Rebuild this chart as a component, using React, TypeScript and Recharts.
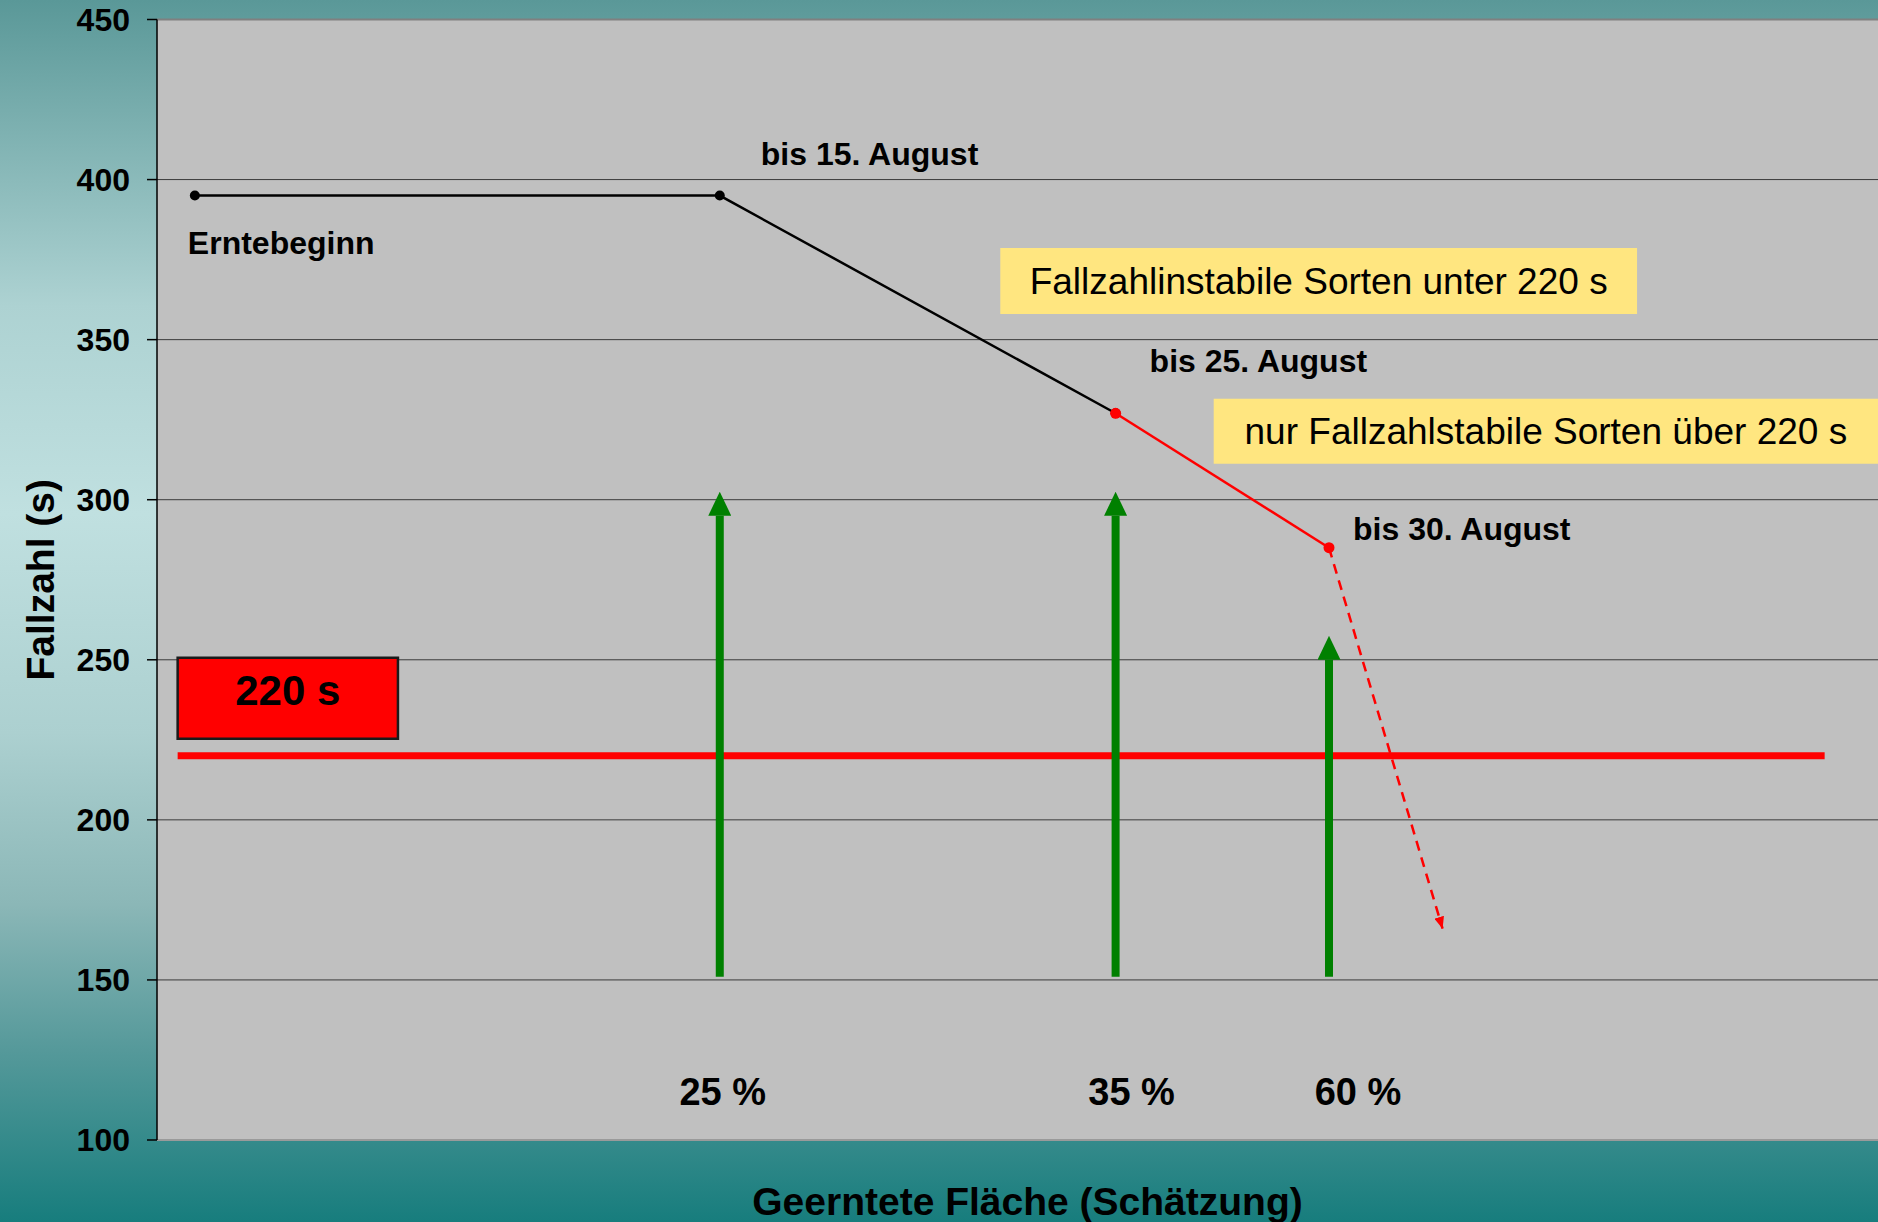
import React from "react";
import {
  CartesianGrid,
  ComposedChart,
  Label,
  Line,
  ReferenceArea,
  ReferenceDot,
  ReferenceLine,
  XAxis,
  YAxis,
} from "recharts";

document.body.style.margin = "0";

const FONT = '"Liberation Sans", Arial, Helvetica, sans-serif';

// Ernteverlauf: Lage auf der (unbeschrifteten) Zeitachse 0–100 und Fallzahl in s
const stageNames = ["Erntebeginn", "bis 15. August", "bis 25. August", "bis 30. August"];
const stageX = [2.2, 32.7, 55.7, 68.1];
const fallzahl = [395, 395, 327, 285];

// weiterer Abfall nach dem 30. August (gestrichelt)
const trendX = [68.1, 74.7];
const trendY = [285, 166];

// geerntete Fläche je Termin (grüne Pfeile)
const harvestShare = ["25 %", "35 %", "60 %"];
const harvestX = [32.7, 55.7, 68.1];
const harvestFrom = [151, 151, 151];
const harvestTo = [295, 295, 250];
const harvestLabelY = 115;

// Grenzwert
const threshold = 220;
const thresholdX = [1.2, 96.9];

const yTicks = [100, 150, 200, 250, 300, 350, 400, 450];

// Hinweiskästen (Achsenkoordinaten)
const redBox = { x1: 1.2, x2: 14, y1: 225.3, y2: 250.6 };
const unstableBox = { x1: 49, x2: 86, y1: 358, y2: 378.6 };
const stableBox = { x1: 61.4, x2: 100, y1: 311.2, y2: 331.5 };

// Versatz der Beschriftungen in px
const stageLabelOffset = [
  [-7, 47],
  [41, -42],
  [34, -52],
  [24, -19],
];
const harvestLabelDx = [3, 16, 29];

const blackData = stageX.slice(0, 3).map((x, i) => ({ x, y: fallzahl[i] }));
const redData = stageX.slice(2).map((x, i) => ({ x, y: fallzahl[i + 2] }));
const trendData = trendX.map((x, i) => ({ x, y: trendY[i] }));
const thresholdData = thresholdX.map((x) => ({ x, y: threshold }));
const arrowData = harvestX.map((x, i) => [
  { x, y: harvestFrom[i] },
  { x, y: harvestTo[i] },
]);

const GREEN = "#008000";

export default function App() {
  return (
    <div
      style={{
        width: 1878,
        height: 1222,
        background:
          "linear-gradient(to bottom, #5a9898 0%, #add2d2 25%, #c0e0e0 42%, #acd0d0 60%, #8bb7b7 74%, #55999a 86%, #177d7d 100%)",
      }}
    >
      <ComposedChart
        width={1878}
        height={1222}
        margin={{ top: 19.5, right: 0, bottom: 0, left: 0 }}
      >
        <defs>
          <marker
            id="greenHead"
            markerUnits="userSpaceOnUse"
            viewBox="0 0 24 23"
            markerWidth={24}
            markerHeight={23}
            refX={0}
            refY={11.5}
            orient="auto"
          >
            <path d="M0,0 L24,11.5 L0,23 z" fill={GREEN} />
          </marker>
          <marker
            id="redHead"
            markerUnits="userSpaceOnUse"
            viewBox="0 0 12 10"
            markerWidth={12}
            markerHeight={10}
            refX={12}
            refY={5}
            orient="auto"
          >
            <path d="M0,0 L12,5 L0,10 z" fill="#ff0000" />
          </marker>
        </defs>

        <CartesianGrid
          vertical={false}
          stroke="#3a3a3a"
          fill="#c0c0c0"
          fillOpacity={1}
        />
        <XAxis
          type="number"
          dataKey="x"
          domain={[0, 100]}
          allowDataOverflow
          height={82}
          tick={false}
          tickLine={false}
          axisLine={{ stroke: "#9a9a9a", strokeWidth: 2 }}
        >
          <Label
            value="Geerntete Fläche (Schätzung)"
            position="center"
            dx={10}
            dy={20}
            fill="#000"
            fontSize={39}
            fontWeight={700}
            fontFamily={FONT}
          />
        </XAxis>
        <YAxis
          type="number"
          domain={[100, 450]}
          ticks={yTicks}
          width={157}
          tickSize={10}
          tickMargin={17}
          axisLine={{ stroke: "#000", strokeWidth: 1.5 }}
          tickLine={{ stroke: "#000", strokeWidth: 1.5 }}
          tick={{ fill: "#000", fontSize: 32, fontWeight: 700, fontFamily: FONT }}
        >
          <Label
            value="Fallzahl (s)"
            angle={-90}
            position="center"
            dx={-38}
            dy={0}
            fill="#000"
            fontSize={39}
            fontWeight={700}
            fontFamily={FONT}
          />
        </YAxis>

        <ReferenceLine y={450} stroke="#808080" strokeWidth={2} />

        <ReferenceArea
          {...unstableBox}
          fill="#ffe680"
          fillOpacity={1}
          stroke="none"
          label={{
            value: "Fallzahlinstabile Sorten unter 220 s",
            position: "center",
            fill: "#000",
            fontSize: 37,
            fontFamily: FONT,
          }}
        />
        <ReferenceArea
          {...stableBox}
          fill="#ffe680"
          fillOpacity={1}
          stroke="none"
          label={{
            value: "nur Fallzahlstabile Sorten über 220 s",
            position: "center",
            fill: "#000",
            fontSize: 37,
            fontFamily: FONT,
          }}
        />
        <ReferenceArea
          {...redBox}
          fill="#ff0000"
          fillOpacity={1}
          stroke="#1a1a1a"
          strokeWidth={2.5}
          label={{
            value: "220 s",
            position: "center",
            dy: -8,
            fill: "#000",
            fontSize: 42,
            fontWeight: 700,
            fontFamily: FONT,
          }}
        />

        <Line
          data={thresholdData}
          dataKey="y"
          type="linear"
          stroke="#ff0000"
          strokeWidth={7}
          dot={false}
          activeDot={false}
          isAnimationActive={false}
        />

        {arrowData.map((d, i) => (
          <Line
            key={`arrow-${i}`}
            data={d}
            dataKey="y"
            type="linear"
            stroke={GREEN}
            strokeWidth={8}
            markerEnd="url(#greenHead)"
            dot={false}
            activeDot={false}
            isAnimationActive={false}
          />
        ))}

        <Line
          data={trendData}
          dataKey="y"
          type="linear"
          stroke="#ff0000"
          strokeWidth={2.5}
          strokeDasharray="10 7"
          markerEnd="url(#redHead)"
          dot={false}
          activeDot={false}
          isAnimationActive={false}
        />
        <Line
          data={blackData}
          dataKey="y"
          type="linear"
          stroke="#000"
          strokeWidth={2.5}
          dot={{ r: 5, fill: "#000", stroke: "#000", strokeWidth: 0 }}
          activeDot={false}
          isAnimationActive={false}
        />
        <Line
          data={redData}
          dataKey="y"
          type="linear"
          stroke="#ff0000"
          strokeWidth={2.5}
          dot={{ r: 5.5, fill: "#ff0000", stroke: "#ff0000", strokeWidth: 0 }}
          activeDot={false}
          isAnimationActive={false}
        />

        {stageNames.map((name, i) => (
          <ReferenceDot
            key={name}
            x={stageX[i]}
            y={fallzahl[i]}
            shape={(p: any) => (
              <text
                x={p.cx + stageLabelOffset[i][0]}
                y={p.cy + stageLabelOffset[i][1]}
                dominantBaseline="central"
                textAnchor="start"
                fill="#000"
                fontSize={32}
                fontWeight={700}
                fontFamily={FONT}
              >
                {name}
              </text>
            )}
          />
        ))}

        {harvestShare.map((share, i) => (
          <ReferenceDot
            key={share}
            x={harvestX[i]}
            y={harvestLabelY}
            shape={(p: any) => (
              <text
                x={p.cx + harvestLabelDx[i]}
                y={p.cy}
                dominantBaseline="central"
                textAnchor="middle"
                fill="#000"
                fontSize={38}
                fontWeight={700}
                fontFamily={FONT}
              >
                {share}
              </text>
            )}
          />
        ))}
      </ComposedChart>
    </div>
  );
}
